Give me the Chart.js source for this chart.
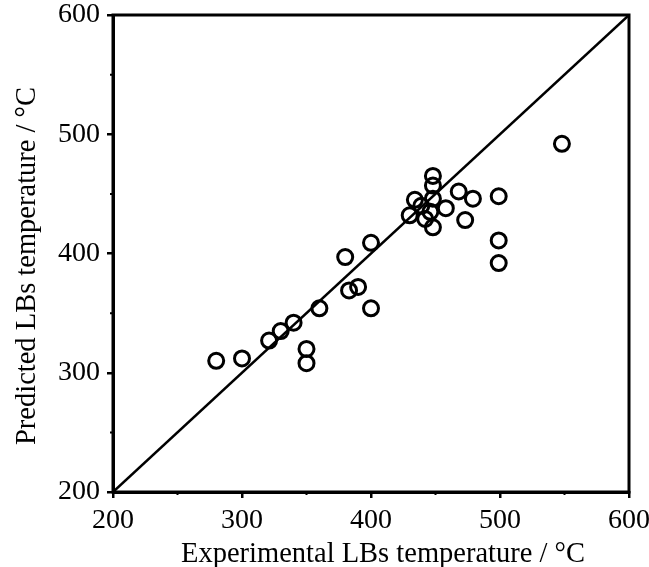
<!DOCTYPE html>
<html>
<head>
<meta charset="utf-8">
<script src="https://cdn.jsdelivr.net/npm/chart.js@4/dist/chart.umd.min.js"></script>
<style>
  html, body { margin: 0; padding: 0; background: #fff; }
  #wrap { width: 649px; height: 567px; }
</style>
</head>
<body>
<div id="wrap"><canvas id="myChart" width="649" height="567"></canvas></div>
<script>
// experimental vs predicted LBs temperature (°C)
const experimental = [280, 300, 321, 330, 340, 350, 350, 360, 380, 383, 390, 400, 400,
  430, 434, 439, 442, 446, 448, 448, 448, 448, 458, 468, 473, 479, 499, 499, 499, 548];
const predicted = [310, 312, 327, 335, 342, 320, 308, 354, 397, 369, 372, 409, 354,
  432, 445, 440, 429, 435, 465, 457, 446, 422, 438, 452, 428, 446, 448, 411, 392, 492];

const parityLine = [200, 600];
const tickValues = [200, 300, 400, 500, 600];
const minorTicks = [250, 350, 450, 550];

const xTitle = 'Experimental LBs temperature / °C';
const yTitle = 'Predicted LBs temperature / °C';

const points = experimental.map((x, i) => ({ x: x, y: predicted[i] }));
const diagonal = parityLine.map(v => ({ x: v, y: v }));

const serif = "'Liberation Serif', 'Times New Roman', serif";

// frame around the plot, short minor ticks, and the two axis titles
const framePlugin = {
  id: 'frame',
  afterDraw(chart) {
    const { ctx, chartArea: a, scales } = chart;
    ctx.save();
    ctx.strokeStyle = '#000';
    ctx.lineWidth = 3;
    ctx.strokeRect(a.left, a.top, a.right - a.left, a.bottom - a.top);
    ctx.lineWidth = 2;
    ctx.beginPath();
    minorTicks.forEach(v => {
      const px = scales.x.getPixelForValue(v);
      ctx.moveTo(px, a.bottom);
      ctx.lineTo(px, a.bottom + 3);
      const py = scales.y.getPixelForValue(v);
      ctx.moveTo(a.left, py);
      ctx.lineTo(a.left - 3, py);
    });
    ctx.stroke();

    ctx.fillStyle = '#000';
    ctx.font = '28.5px ' + serif;
    ctx.textAlign = 'center';
    ctx.textBaseline = 'alphabetic';
    ctx.fillText(xTitle, 383, 562);

    ctx.translate(35, 266);
    ctx.rotate(-Math.PI / 2);
    ctx.fillText(yTitle, 0, 0);
    ctx.restore();
  }
};

// drop the extra room chart.js keeps for edge labels
function noEdgePadding(axis) {
  axis.paddingTop = 0;
  axis.paddingBottom = 0;
  axis.paddingLeft = 0;
  axis.paddingRight = 0;
}

const ctx = document.getElementById('myChart').getContext('2d');

const chart = new Chart(ctx, {
  type: 'scatter',
  data: {
    datasets: [
      {
        label: 'Data',
        data: points,
        pointStyle: 'circle',
        pointRadius: 7.5,
        pointHoverRadius: 7.5,
        pointBorderWidth: 3,
        pointBorderColor: '#000',
        pointBackgroundColor: 'rgba(255,255,255,0)'
      },
      {
        label: 'y = x',
        type: 'line',
        data: diagonal,
        borderColor: '#000',
        borderWidth: 2.5,
        pointRadius: 0,
        fill: false
      }
    ]
  },
  options: {
    responsive: false,
    animation: false,
    layout: { padding: { top: 15, right: 20, left: 0, bottom: 0 } },
    plugins: {
      legend: { display: false },
      tooltip: { enabled: false }
    },
    scales: {
      x: {
        type: 'linear',
        min: 200,
        max: 600,
        afterBuildTicks: axis => { axis.ticks = tickValues.map(v => ({ value: v })); },
        afterFit: axis => { axis.height = 75; noEdgePadding(axis); },
        border: { display: true, color: '#000', width: 3 },
        grid: { drawOnChartArea: false, drawTicks: true, tickLength: 6, color: '#000', lineWidth: 2.5 },
        ticks: { color: '#000', font: { family: serif, size: 28 }, padding: 6, maxRotation: 0 },
        title: { display: false }
      },
      y: {
        type: 'linear',
        min: 200,
        max: 600,
        afterBuildTicks: axis => { axis.ticks = tickValues.map(v => ({ value: v })); },
        afterFit: axis => { axis.width = 113; noEdgePadding(axis); },
        border: { display: true, color: '#000', width: 3 },
        grid: { drawOnChartArea: false, drawTicks: true, tickLength: 6, color: '#000', lineWidth: 2.5 },
        ticks: { color: '#000', font: { family: serif, size: 28 }, padding: 7 },
        title: { display: false }
      }
    }
  },
  plugins: [framePlugin]
});
</script>
</body>
</html>
